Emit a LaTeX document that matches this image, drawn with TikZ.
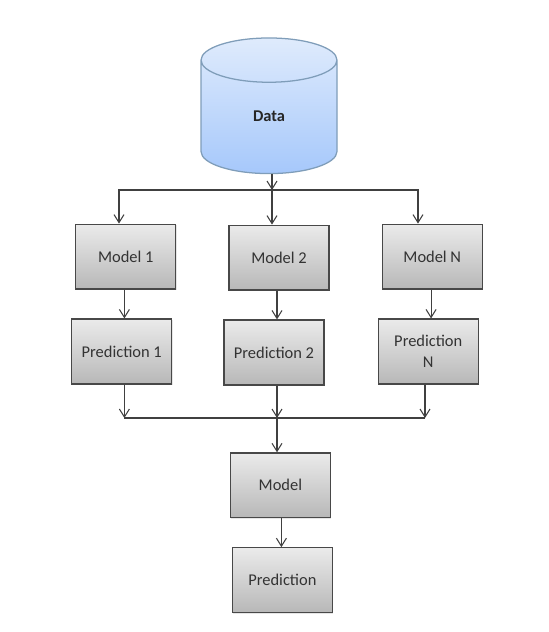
\documentclass[tikz,border=0pt]{standalone}
\usepackage{fontspec}
\setmainfont{Carlito}
\usepackage{xcolor}
\usepackage{tikz}
\usetikzlibrary{arrows.meta, positioning, shapes.geometric, shadows}

\definecolor{boxline}{HTML}{484848}
\definecolor{arrowgray}{HTML}{404040}
\definecolor{dataline}{HTML}{7F9DB9}
\definecolor{datatop}{HTML}{DFEBFC}
\definecolor{databottom}{HTML}{A6C8FB}

\tikzset{
    flowbox/.style={rectangle, draw=boxline, line width=0.9pt, top color=black!8, bottom color=black!28,
        minimum width=2.5cm, minimum height=1.62cm, align=center, text=black!80, font=\fontsize{11.7}{15}\selectfont,
        drop shadow={opacity=0.2, shadow xshift=0.02cm, shadow yshift=-0.03cm}},
    datastore/.style={cylinder, shape border rotate=90, aspect=1.07, draw=dataline, line width=0.9pt,
        top color=datatop, bottom color=databottom, minimum width=3.4cm, minimum height=3.39cm,
        font=\fontsize{11.7}{13}\selectfont\bfseries, text=black!85},
    flowline/.style={draw=arrowgray, line width=0.75pt}
}

\begin{document}
\begin{tikzpicture}[>={Straight Barb[length=2mm, width=2.5mm]}]
    \useasboundingbox (0,0) rectangle (13.7,-15.8);

    \node[datastore] (data) at (6.725,-3.03) {\raisebox{0.24cm}{Data}};

    \node[flowbox] (model2) at (6.975,-6.44) {Model 2};
    \node[flowbox, left=1.3cm of model2, yshift=0.025cm] (model1) {Model 1};
    \node[flowbox, right=1.3cm of model2, yshift=0.025cm] (modeln) {Model N};

    \node[flowbox, below=0.72cm of model1, xshift=-0.1cm] (pred1) {Prediction 1};
    \node[flowbox, below=0.72cm of model2, xshift=-0.125cm] (pred2) {Prediction 2};
    \node[flowbox, below=0.72cm of modeln, xshift=-0.1cm] (predn) {Prediction\\N};

    \node[flowbox, below=1.67cm of pred2, xshift=0.16cm] (model) {Model};
    \node[flowbox, below=0.72cm of model, xshift=0.05cm] (prediction) {Prediction};

    % top and bottom bars
    \coordinate (split) at (6.8,-4.75);
    \coordinate (splitl) at (2.975,-4.75);
    \coordinate (splitr) at (10.45,-4.75);
    \coordinate (merge) at (6.925,-10.45);
    \coordinate (mergel) at (3.11,-10.45);
    \coordinate (merger) at (10.625,-10.45);

    \draw[->, flowline] (split |- data.south) -- (split);
    \draw[->, flowline] (split) -- (split |- model2.north);
    \draw[->, flowline] (split) -- (splitl) -- (splitl |- model1.north);
    \draw[->, flowline] (split) -- (splitr) -- (splitr |- modeln.north);

    \draw[->, flowline] (mergel |- model1.south) -- (mergel |- pred1.north);
    \draw[->, flowline] (merge |- model2.south) -- (merge |- pred2.north);
    \draw[->, flowline] ([xshift=0.07cm]predn.north |- modeln.south) -- ([xshift=0.07cm]predn.north);

    \draw[->, flowline] (mergel |- pred1.south) -- (mergel);
    \draw[->, flowline] (merge |- pred2.south) -- (merge);
    \draw[->, flowline] (merger |- predn.south) -- (merger);
    \draw[flowline] (mergel) -- (merger);

    \draw[->, flowline] (merge) -- (merge |- model.north);
    \draw[->, flowline] ([xshift=-0.025cm]prediction.north |- model.south) -- ([xshift=-0.025cm]prediction.north);
\end{tikzpicture}
\end{document}
